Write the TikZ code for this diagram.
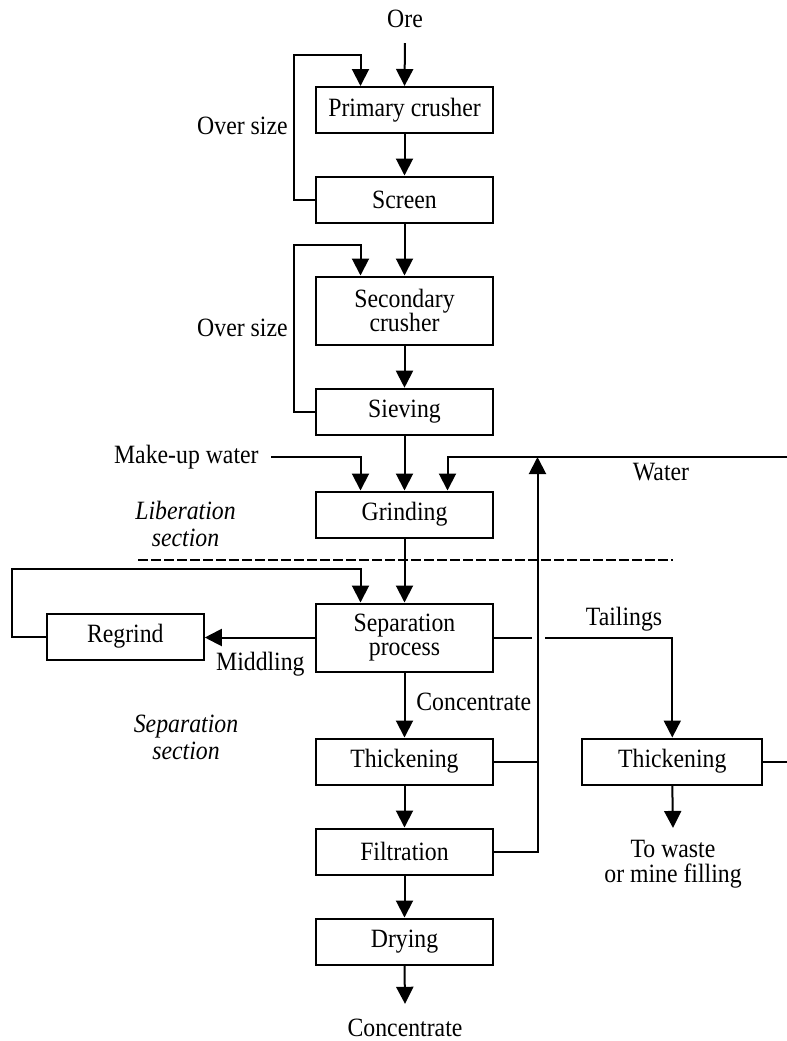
\documentclass[tikz,border=0pt]{standalone}
\usepackage{fontspec}
\setmainfont[FakeStretch=0.9]{Liberation Serif}
\usetikzlibrary{arrows.meta, positioning, calc}
\newcommand{\unitfont}{\fontsize{13.2}{12.2}\selectfont}
\newcommand{\secfont}{\fontsize{13.2}{13.6}\selectfont\itshape}
\tikzset{
    unit/.style={rectangle, draw, line width=1pt, inner sep=0pt,
                 minimum width=88.5pt, minimum height=23pt,
                 align=center, font=\unitfont},
    unittall/.style={unit, minimum height=34pt},
    flow/.style={-{Triangle[length=8.5pt, width=8.5pt]}, line width=1pt},
    pipe/.style={-, line width=1pt},
    divider/.style={line width=1.3pt, dash pattern=on 5pt off 1.5pt},
    lbl/.style={inner sep=0pt, align=center, font=\unitfont},
    seclbl/.style={inner sep=0pt, align=center, font=\secfont},
}

\begin{document}
\begin{tikzpicture}[x=0.5pt, y=-0.5pt]
\useasboundingbox (0,0) rectangle (787,1041);
% Crushing and screening line.
\node[lbl, anchor=base] (ore) at (405,27) {Ore};
\node[unit] (crushA) at (404.5,110) {Primary crusher};
\node[unit] (screen) at (404.5,199.5) {Screen};
\node[unittall] (crushB) at (404.5,310.5) {Secondary\\crusher};
\node[unit] (sieve) at (404.5,411.7) {Sieving};
\node[lbl, anchor=base east] (over1) at (288,134) {Over size};
\node[lbl, anchor=base east] (over2) at (288,336.7) {Over size};
% Grinding and water feeds.
\node[unit] (grind) at (404.5,514.5) {Grinding};
\node[lbl, anchor=base east] (mkup) at (259,463) {Make-up water};
\node[lbl, anchor=base] (water) at (661,480) {Water};
\node[seclbl] (libsec) at (185.5,524) {Liberation\\section};
% Separation section.
\node[unittall] (sep) at (404.5,637.5) {Separation\\process};
\node[unit, minimum width=78.5pt] (regrind) at (125.3,636.5) {Regrind};
\node[unit] (thickC) at (404.5,761.5) {Thickening};
\node[unit] (filt) at (404.5,851.5) {Filtration};
\node[unit] (dry) at (404.5,941.5) {Drying};
\node[unit, minimum width=90pt] (thickT) at (672.3,761.5) {Thickening};
\node[lbl, anchor=base east] (mid) at (305,670) {Middling};
\node[lbl, anchor=base west] (concA) at (416,710) {Concentrate};
\node[lbl, anchor=base] (tail) at (624,625) {Tailings};
\node[seclbl] (sepsec) at (186,737.5) {Separation\\section};
\node[lbl] (waste) at (673,864) {To waste\\or mine filling};
\node[lbl, anchor=base] (concB) at (405,1036.7) {Concentrate};
% Turning points and free ends.
\coordinate (ov1) at (294,55);
\coordinate (ov2) at (294,245);
\coordinate (rg) at (12.3,569.3);
\coordinate (wsrc) at (787,457);
\coordinate (wret) at (537.5,457);
\coordinate (gapL) at (531.7,637.5);
\coordinate (gapR) at (545,637.5);
\coordinate (tout) at (787,761.5);
\coordinate (dl) at (138,560);
\coordinate (dr) at (673,560);
% Edges.
\draw[flow] ([yshift=-8pt]ore.base) -- (crushA.north);
\draw[flow] (crushA) -- (screen);
\draw[flow] (screen.west) -| (ov1) -| ([xshift=-22pt]crushA.north);
\draw[flow] (screen) -- (crushB);
\draw[flow] (crushB) -- (sieve);
\draw[flow] (sieve.west) -| (ov2) -| ([xshift=-22pt]crushB.north);
\draw[flow] (sieve) -- (grind);
\draw[flow] ([xshift=6pt]mkup.east |- wsrc) -| ([xshift=-22pt]grind.north);
\draw[flow] (wsrc) -| ([xshift=21.5pt]grind.north);
\draw[divider] (dl) -- (dr);
\draw[flow] (grind) -- (sep);
\draw[flow] (sep.west) -- (sep.west -| regrind.east);
\draw[flow] (regrind.west) -| (rg) -| ([xshift=-22pt]sep.north);
\draw[pipe] (sep.east) -- (gapL);
\draw[flow] (gapR) -| (thickT.north);
\draw[flow] (sep) -- (thickC);
\draw[flow] (thickC) -- (filt);
\draw[flow] (filt) -- (dry);
\draw[flow] (dry.south) -- ([yshift=7.5pt]concB.north);
\draw[pipe] (thickC.east) -- (thickC.east -| wret);
\draw[flow] (filt.east) -| (wret);
\draw[pipe] (thickT.east) -- (tout);
\draw[flow] (thickT.south) -- ([yshift=6pt]waste.north);
\end{tikzpicture}
\end{document}
